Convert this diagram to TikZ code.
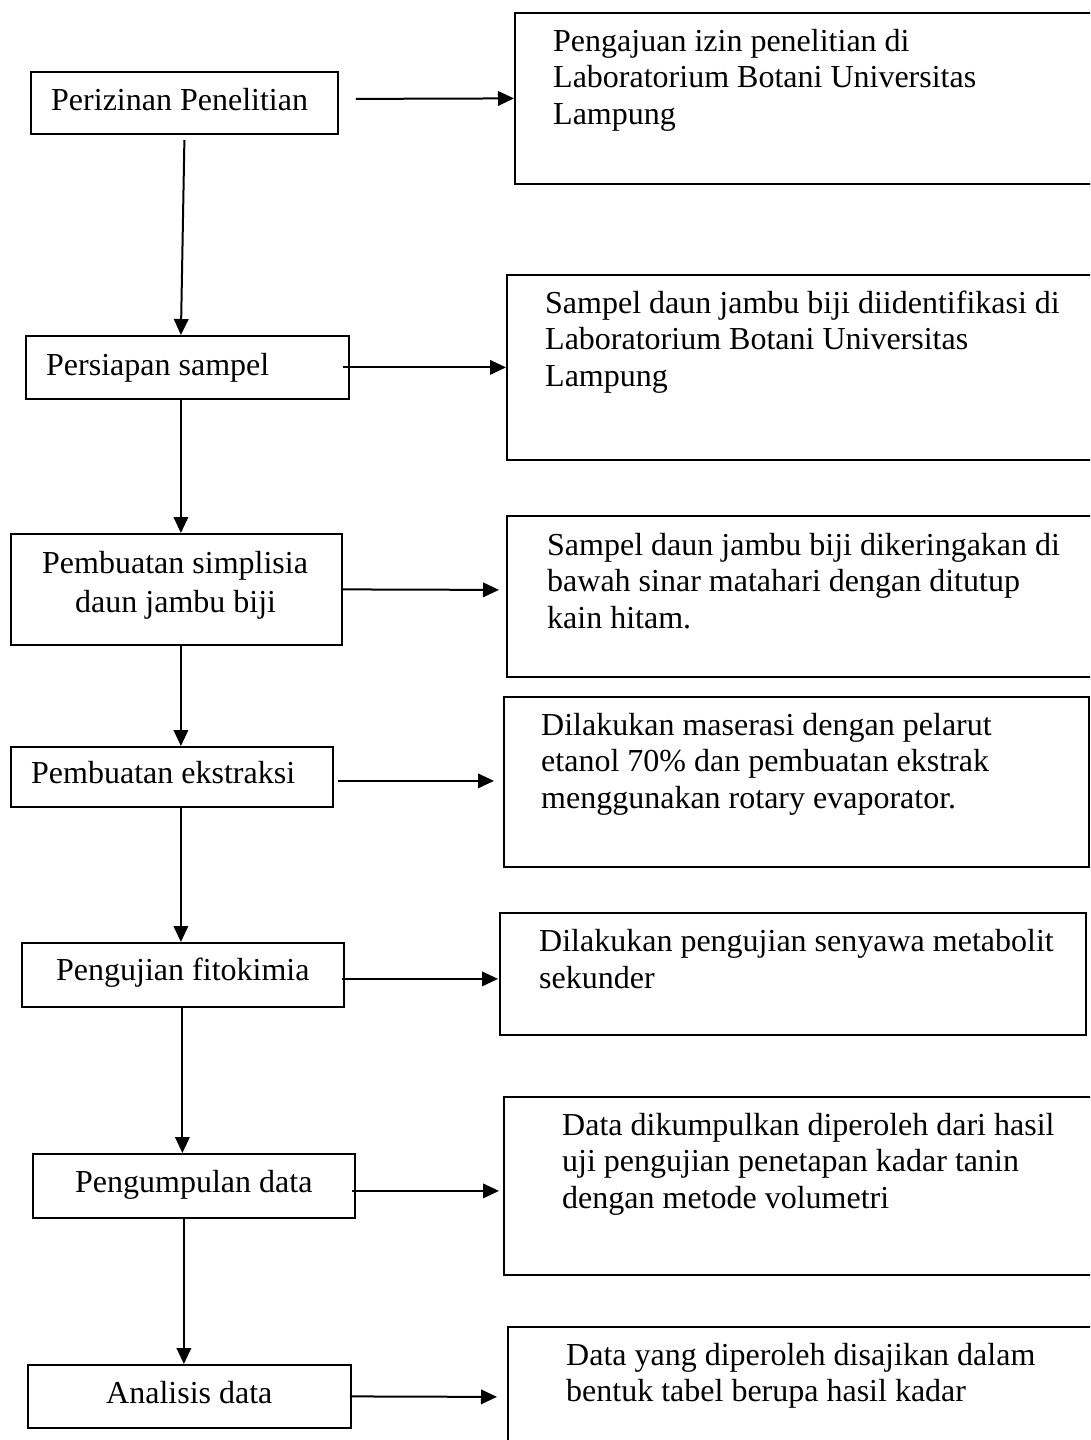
\documentclass[tikz,border=0pt]{standalone}
\usepackage{fontspec}
\setmainfont{Liberation Serif}
\usetikzlibrary{arrows.meta}
\begin{document}
\begin{tikzpicture}[x=1pt,y=-1pt,
  box/.style={draw=black,line width=1.8pt,inner sep=0pt,anchor=north west},
  txt/.style={inner sep=0pt,anchor=base west,align=left,font=\fontsize{32}{36.8}\selectfont},
  arr/.style={line width=2pt,-{Triangle[length=16pt,width=14.5pt]}}]
\useasboundingbox (0,0) rectangle (1090,1440);
\clip (0,0) rectangle (1090,1440);
% left boxes
\node[box,minimum width=307pt,minimum height=62pt] (b1) at (30,71) {};
\node[box,minimum width=323pt,minimum height=63pt] (b2) at (25,335) {};
\node[box,minimum width=331pt,minimum height=111pt] (b3) at (10,533) {};
\node[box,minimum width=322pt,minimum height=60pt] (b4) at (10,746) {};
\node[box,minimum width=322pt,minimum height=64pt] (b5) at (21,942) {};
\node[box,minimum width=322pt,minimum height=64pt] (b6) at (32,1153) {};
\node[box,minimum width=323pt,minimum height=63pt] (b7) at (27,1364) {};
% right boxes
\node[box,minimum width=586pt,minimum height=171pt] (r1) at (514,12) {};
\node[box,minimum width=594pt,minimum height=185pt] (r2) at (506,274) {};
\node[box,minimum width=594pt,minimum height=161pt] (r3) at (506,515) {};
\node[box,minimum width=585pt,minimum height=170pt] (r4) at (503,696) {};
\node[box,minimum width=586pt,minimum height=122pt] (r5) at (499,912) {};
\node[box,minimum width=597pt,minimum height=178pt] (r6) at (503,1096) {};
\node[box,minimum width=593pt,minimum height=130pt] (r7) at (507,1326) {};
% left texts
\node[txt] (t1) at (51,110) {Perizinan Penelitian};
\node[txt] (t2) at (46,375) {Persiapan sampel};
\node[txt] (t3a) at (42,573) {Pembuatan simplisia};
\node[txt] (t3b) at (75,612) {daun jambu biji};
\node[txt] (t4) at (31,783) {Pembuatan ekstraksi};
\node[txt] (t5) at (56,980) {Pengujian fitokimia};
\node[txt] (t6) at (75,1192) {Pengumpulan data};
\node[txt] (t7) at (106,1403) {Analisis data};
% right texts (anchor = baseline of last line)
\node[txt] (s1) at (553,124.6) {Pengajuan izin penelitian di\\Laboratorium Botani Universitas\\Lampung};
\node[txt] (s2) at (545,386.6) {Sampel daun jambu biji diidentifikasi di\\Laboratorium Botani Universitas\\Lampung};
\node[txt] (s3) at (547,628.6) {Sampel daun jambu biji dikeringakan di\\bawah sinar matahari dengan ditutup\\kain hitam.};
\node[txt] (s4) at (541,808.6) {Dilakukan maserasi dengan pelarut\\etanol 70\% dan pembuatan ekstrak\\menggunakan rotary evaporator.};
\node[txt] (s5) at (539,988) {Dilakukan pengujian senyawa metabolit\\sekunder};
\node[txt] (s6) at (562,1208.6) {Data dikumpulkan diperoleh dari hasil\\uji pengujian penetapan kadar tanin\\dengan metode volumetri};
\node[txt] (s7) at (566,1401.8) {Data yang diperoleh disajikan dalam\\bentuk tabel berupa hasil kadar};
% vertical arrows
\draw[arr] ([yshift=-5pt]b1.south) -- ([xshift=-6.5pt]b2.north);
\draw[arr] ([xshift=-6.5pt]b2.south) -- ([xshift=4.5pt]b3.north);
\draw[arr] ([xshift=4.5pt]b3.south) -- ([xshift=9pt]b4.north);
\draw[arr] ([xshift=9pt]b4.south) -- ([xshift=-2pt]b5.north);
\draw[arr] ([xshift=-0.5pt]b5.south) -- ([xshift=-11.5pt]b6.north);
\draw[arr] ([xshift=-10pt]b6.south) -- ([xshift=-5.5pt]b7.north);
% horizontal arrows
\draw[arr] ([xshift=17pt,yshift=4pt]b1.east) -- (r1.west);
\draw[arr] ([xshift=-7pt]b2.east) -- (r2.west);
\draw[arr] (b3.east) -- ([xshift=-7pt,yshift=6.5pt]r3.west);
\draw[arr] ([xshift=4.5pt,yshift=-4pt]b4.east) -- ([xshift=-9pt,yshift=1pt]r4.west);
\draw[arr] ([xshift=-2.4pt,yshift=-4pt]b5.east) -- ([xshift=-1pt,yshift=-5pt]r5.west);
\draw[arr] ([xshift=-4pt,yshift=-5pt]b6.east) -- ([xshift=-4pt,yshift=-5pt]r6.west);
\draw[arr] ([xshift=-2pt]b7.east) -- ([xshift=-10pt,yshift=-5pt]r7.west);
\end{tikzpicture}
\end{document}
